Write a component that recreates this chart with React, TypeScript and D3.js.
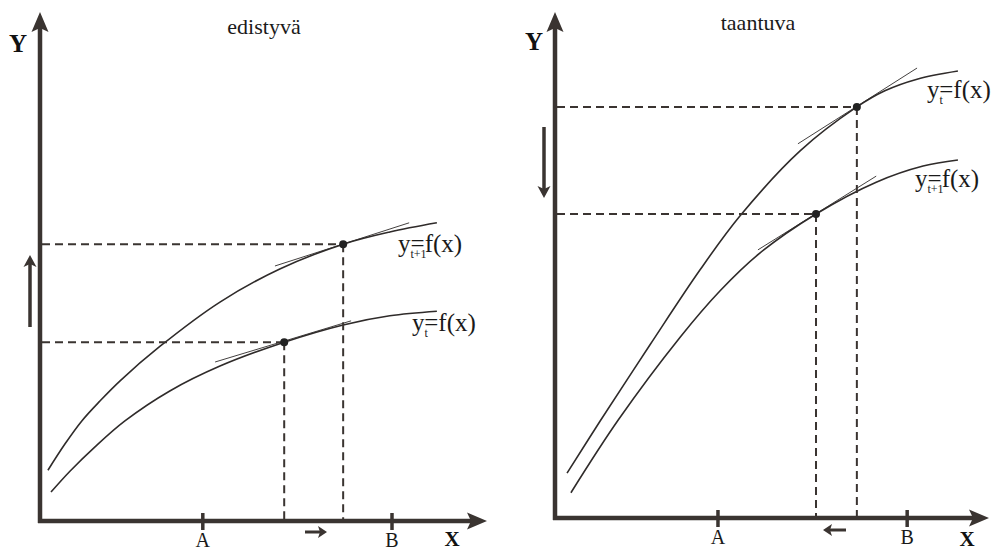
import React from 'react';
import * as d3 from 'd3';

// ---------- data (units: each axis 0..100) ----------
const tickLabels = ['A', 'B'];

// Left panel ("edistyvä")
const leftTicks = [37.0, 80.0];
const leftUpperX = [1.8, 5.7, 9.5, 13.6, 18.2, 27.3, 40.9, 54.5, 68.9, 79.5, 90.2];
const leftUpperY = [10.0, 15.2, 19.7, 23.6, 27.6, 34.4, 43.1, 49.6, 54.5, 56.9, 58.7];
const leftLowerX = [2.5, 6.8, 12.5, 19.3, 29.5, 40.9, 55.5, 68.9, 79.5, 90.2];
const leftLowerY = [5.7, 9.8, 14.6, 19.7, 25.6, 30.5, 35.2, 38.6, 40.4, 41.3];
const leftPointsX = [68.9, 55.5];
const leftPointsY = [54.5, 35.2];
const leftTangentX = [[53.4, 83.9], [39.8, 70.7]];
const leftTangentY = [[50.2, 58.7], [31.3, 39.4]];

// Right panel ("taantuva")
const rightTicks = [37.9, 81.9];
const rightUpperX = [2.8, 10.5, 22.1, 33.7, 43.0, 57.0, 70.2, 76.7, 84.2, 93.7];
const rightUpperY = [8.9, 19.2, 34.3, 49.1, 59.8, 72.7, 81.4, 84.6, 86.9, 88.5];
const rightLowerX = [3.7, 14.7, 29.1, 38.4, 47.7, 60.7, 74.7, 85.6, 93.7];
const rightLowerY = [5.0, 19.4, 35.8, 45.0, 52.5, 60.2, 66.5, 69.7, 70.9];
const rightPointsX = [70.2, 60.7];
const rightPointsY = [81.4, 60.2];
const rightTangentX = [[56.5, 84.2], [47.2, 74.7]];
const rightTangentY = [[74.1, 89.1], [53.1, 67.7]];

// ---------- styling ----------
const W = 996, H = 551;
const FONT = '"Liberation Serif", "Times New Roman", serif';
const INK = '#3a3431';
const LINE = '#2f2b2a';

type Label = { x: number; y: number; sub: string };

type PanelProps = {
  x0: number; x1: number; y0: number; y1: number;
  axisTipX: number; axisTipY: number;
  ticks: number[];
  upper: [number[], number[]]; lower: [number[], number[]];
  upperLabel: Label; lowerLabel: Label;
  ptsX: number[]; ptsY: number[];
  tanX: number[][]; tanY: number[][];
  title: string; titleX: number; titleY: number;
  yLab: [number, number]; xLab: [number, number];
  vArrow: { x: number; from: number; to: number };
  hArrow: { y: number; from: number; to: number };
};

function CurveLabel({ l }: { l: Label }) {
  const subW = l.sub === 't' ? 3.6 : 16;
  return (
    <text x={l.x} y={l.y} fontFamily={FONT} fontSize={25} fill="#1a1a1a">
      y
      <tspan fontSize={12} dy={6}>{l.sub}</tspan>
      <tspan dx={-subW} dy={-6}>=</tspan>
      f(x)
    </text>
  );
}

function Panel(p: PanelProps) {
  const xs = d3.scaleLinear().domain([0, 100]).range([p.x0, p.x1]);
  const ys = d3.scaleLinear().domain([0, 100]).range([p.y0, p.y1]);
  const line = d3.line<[number, number]>()
    .x(d => xs(d[0])).y(d => ys(d[1]))
    .curve(d3.curveCatmullRom.alpha(0.5));
  const zip = (a: number[], b: number[]) => a.map((v, i) => [v, b[i]] as [number, number]);
  const ox = xs(0), oy = ys(0);
  const { vArrow, hArrow } = p;
  const vDir = vArrow.to < vArrow.from ? -1 : 1;
  const hDir = hArrow.to > hArrow.from ? 1 : -1;
  return (
    <g>
      <path d={line(zip(p.upper[0], p.upper[1])) || ''} fill="none" stroke={LINE} strokeWidth={1.6} />
      <path d={line(zip(p.lower[0], p.lower[1])) || ''} fill="none" stroke={LINE} strokeWidth={1.6} />
      {p.tanX.map((tx, i) => (
        <line key={'t' + i} x1={xs(tx[0])} y1={ys(p.tanY[i][0])} x2={xs(tx[1])} y2={ys(p.tanY[i][1])}
          stroke={LINE} strokeWidth={0.9} />
      ))}
      {p.ptsX.map((px, i) => (
        <g key={'d' + i} stroke={INK} strokeWidth={2} strokeDasharray="8 5" fill="none">
          <line x1={ox + 2} y1={ys(p.ptsY[i])} x2={xs(px)} y2={ys(p.ptsY[i])} />
          <line x1={xs(px)} y1={ys(p.ptsY[i])} x2={xs(px)} y2={oy - 2} />
        </g>
      ))}
      {p.ptsX.map((px, i) => (
        <circle key={'c' + i} cx={xs(px)} cy={ys(p.ptsY[i])} r={4} fill="#222" />
      ))}
      <line x1={ox} y1={oy + 2} x2={ox} y2={p.axisTipY + 14} stroke={INK} strokeWidth={4.5} />
      <path d={`M${ox},${p.axisTipY} L${ox + 8.5},${p.axisTipY + 20} L${ox},${p.axisTipY + 16} L${ox - 8.5},${p.axisTipY + 20} Z`} fill={INK} />
      <line x1={ox - 2} y1={oy} x2={p.axisTipX - 14} y2={oy} stroke={INK} strokeWidth={4.5} />
      <path d={`M${p.axisTipX},${oy} L${p.axisTipX - 20},${oy - 8.5} L${p.axisTipX - 16},${oy} L${p.axisTipX - 20},${oy + 8.5} Z`} fill={INK} />
      {p.ticks.map((t, i) => (
        <g key={'k' + i}>
          <line x1={xs(t)} x2={xs(t)} y1={oy - 8} y2={oy + 9} stroke={INK} strokeWidth={3.5} />
          <text x={xs(t)} y={oy + 26} fontFamily={FONT} fontSize={20} textAnchor="middle" fill="#1a1a1a">{tickLabels[i]}</text>
        </g>
      ))}
      <text x={p.yLab[0]} y={p.yLab[1]} fontFamily={FONT} fontSize={25} fontWeight="bold" textAnchor="middle" fill="#111">Y</text>
      <text x={p.xLab[0]} y={p.xLab[1]} fontFamily={FONT} fontSize={21} fontWeight="bold" textAnchor="middle" fill="#111">X</text>
      <text x={p.titleX} y={p.titleY} fontFamily={FONT} fontSize={22} textAnchor="middle" fill="#1a1a1a">{p.title}</text>
      <line x1={vArrow.x} y1={vArrow.from} x2={vArrow.x} y2={vArrow.to - vDir * 8} stroke={INK} strokeWidth={3.5} />
      <path d={`M${vArrow.x},${vArrow.to} L${vArrow.x + 6.5},${vArrow.to - vDir * 12} L${vArrow.x},${vArrow.to - vDir * 9} L${vArrow.x - 6.5},${vArrow.to - vDir * 12} Z`} fill={INK} />
      <line x1={hArrow.from} y1={hArrow.y} x2={hArrow.to - hDir * 5} y2={hArrow.y} stroke={INK} strokeWidth={3} />
      <path d={`M${hArrow.to},${hArrow.y} L${hArrow.to - hDir * 9},${hArrow.y - 6} L${hArrow.to - hDir * 7},${hArrow.y} L${hArrow.to - hDir * 9},${hArrow.y + 6} Z`} fill={INK} />
      <CurveLabel l={p.upperLabel} />
      <CurveLabel l={p.lowerLabel} />
    </g>
  );
}

export default function App() {
  return (
    <svg width={W} height={H} viewBox={`0 0 ${W} ${H}`}
      style={{ position: 'absolute', left: 0, top: 0, background: '#fff' }}>
      <rect width={W} height={H} fill="#fff" />
      <Panel
        x0={40} x1={480} y0={521} y1={13}
        axisTipX={487} axisTipY={12}
        ticks={leftTicks}
        upper={[leftUpperX, leftUpperY]} lower={[leftLowerX, leftLowerY]}
        upperLabel={{ x: 398, y: 252, sub: 't+1' }}
        lowerLabel={{ x: 412, y: 331, sub: 't' }}
        ptsX={leftPointsX} ptsY={leftPointsY}
        tanX={leftTangentX} tanY={leftTangentY}
        title="edistyvä" titleX={264} titleY={34}
        yLab={[18, 52]} xLab={[452, 546]}
        vArrow={{ x: 30, from: 327, to: 255 }}
        hArrow={{ y: 532, from: 305, to: 327 }}
      />
      <Panel
        x0={555} x1={985} y0={518} y1={13}
        axisTipX={989} axisTipY={12}
        ticks={rightTicks}
        upper={[rightUpperX, rightUpperY]} lower={[rightLowerX, rightLowerY]}
        upperLabel={{ x: 927, y: 98, sub: 't' }}
        lowerLabel={{ x: 915, y: 187, sub: 't+1' }}
        ptsX={rightPointsX} ptsY={rightPointsY}
        tanX={rightTangentX} tanY={rightTangentY}
        title="taantuva" titleX={758} titleY={30}
        yLab={[534, 50]} xLab={[967, 546]}
        vArrow={{ x: 544, from: 127, to: 198 }}
        hArrow={{ y: 530, from: 846, to: 823 }}
      />
    </svg>
  );
}
